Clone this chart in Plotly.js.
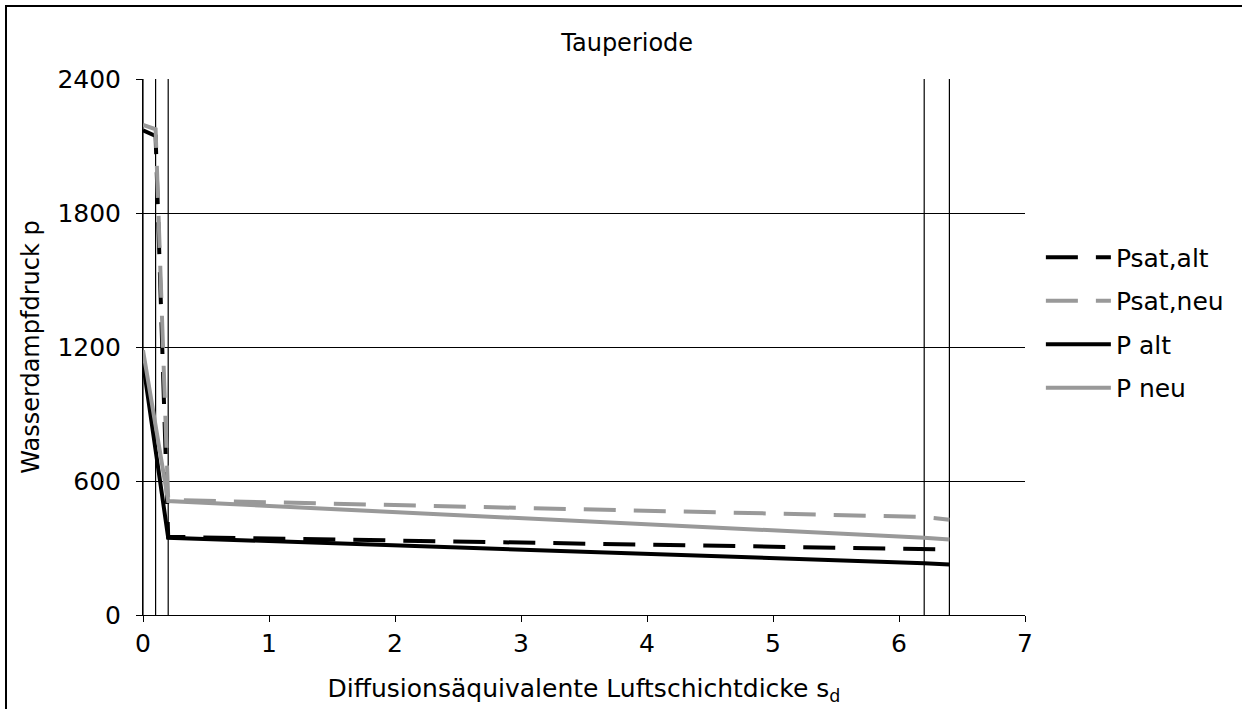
<!DOCTYPE html>
<html>
<head>
<meta charset="utf-8">
<script src="https://cdn.plot.ly/plotly-3.0.1.min.js"></script>
<style>
  html, body { margin: 0; padding: 0; background: #fff; }
  #chart { width: 1242px; height: 709px; }
</style>
</head>
<body>
<div id="chart"></div>
<script>
// Diffusion-equivalent air layer thickness s_d at the layer boundaries
const sd = [0, 0.1, 0.2, 6.2, 6.4];
// Water vapour pressure values (Pa)
const psatAlt = [2170, 2145, 350, 297, 293];
const psatNeu = [2195, 2175, 515, 439, 427];
const pAlt    = [1130, 738, 346, 232, 226];
const pNeu    = [1185, 848, 510, 346, 338];
// Layer boundaries (vertical lines)
const layerBoundaries = [0, 0.1, 0.2, 6.2, 6.4];
const seriesNames = ['Psat,alt', 'Psat,neu', 'P alt', 'P neu'];
const yTicks = [0, 600, 1200, 1800, 2400];
const xTicks = [0, 1, 2, 3, 4, 5, 6, 7];

const FONT = 'DejaVu Sans, Verdana, sans-serif';
const GRAY = '#999999';
const DASH = '32px,18px';

const traces = [
  {x: sd, y: psatAlt, name: seriesNames[0], legendgroup: 'a', mode: 'lines', line: {color: '#000', width: 4, dash: DASH}},
  {x: sd, y: psatNeu, name: seriesNames[1], legendgroup: 'b', mode: 'lines', line: {color: GRAY, width: 4, dash: DASH}},
  {x: sd, y: pAlt, name: seriesNames[2], legendgroup: 'c', mode: 'lines', line: {color: '#000', width: 4}},
  {x: sd, y: pNeu, name: seriesNames[3], legendgroup: 'd', mode: 'lines', line: {color: GRAY, width: 4}}
];

const shapes = layerBoundaries.map(b => ({
  type: 'line', xref: 'x', yref: 'y', x0: b, x1: b, y0: 0, y1: 2400,
  line: {color: '#000', width: 1.2}, layer: 'below'
}));
// outer chart frame (plot area spans 882 x 536 px); right and bottom edges fall outside the picture
shapes.push({
  type: 'rect', xref: 'paper', yref: 'paper',
  x0: -137/882, x1: 1200/882, y0: -140/536, y1: 609/536,
  line: {color: '#000', width: 2}, fillcolor: 'rgba(0,0,0,0)'
});

const layout = {
  width: 1242, height: 709,
  margin: {l: 143, r: 217, t: 79, b: 94},
  paper_bgcolor: '#fff', plot_bgcolor: '#fff',
  font: {family: FONT, size: 25, color: '#000'},
  title: {text: 'Tauperiode', font: {family: FONT, size: 24, color: '#000'},
          x: 0.505, xref: 'container', y: 0.94, yref: 'container', yanchor: 'middle'},
  xaxis: {
    range: [0, 7], tickvals: xTicks, ticktext: xTicks.map(String),
    showgrid: false, zeroline: false, showline: true, linecolor: '#000', linewidth: 1,
    ticks: 'outside', ticklen: 6, tickcolor: '#000',
    tickfont: {family: FONT, size: 25},
    title: {text: 'Diffusionsäquivalente Luftschichtdicke s<sub>d</sub>', font: {family: FONT, size: 25}, standoff: 22}
  },
  yaxis: {
    range: [0, 2400], tickvals: yTicks, ticktext: yTicks.map(String),
    showgrid: true, gridcolor: '#000', gridwidth: 1, zeroline: false,
    showline: true, linecolor: '#000', linewidth: 1,
    ticks: 'outside', ticklen: 6, tickcolor: '#000',
    ticklabelstandoff: 10,
    tickfont: {family: FONT, size: 25},
    title: {text: 'Wasserdampfdruck p', font: {family: FONT, size: 24}, standoff: 10}
  },
  legend: {
    x: 1.018, y: 0.71, xanchor: 'left', yanchor: 'top',
    font: {family: FONT, size: 25}, itemwidth: 65, traceorder: 'grouped',
    bgcolor: 'rgba(0,0,0,0)', borderwidth: 0, tracegroupgap: 8
  },
  showlegend: true,
  shapes: shapes
};

Plotly.newPlot('chart', traces, layout, {displayModeBar: false, staticPlot: true});
</script>
</body>
</html>
